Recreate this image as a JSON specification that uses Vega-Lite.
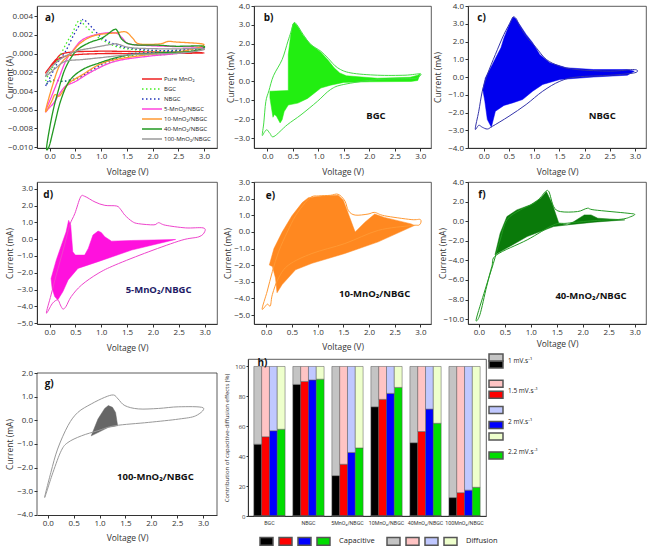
{
"$schema": "https://vega.github.io/schema/vega-lite/v6.json",
"padding": {"left": 4, "top": 1, "right": 0, "bottom": 0},
"background": "white",
"config": {
 "font": "Open Sans",
 "view": {"stroke": "#333", "strokeWidth": 0.8},
 "axis": {"grid": false, "domainColor": "#333", "tickColor": "#333", "labelColor": "#333", "titleColor": "#333", "labelFontSize": 8, "titleFontSize": 8.5, "titleFontWeight": "normal", "tickSize": 3, "labelPadding": 1.5, "labelFont": "Open Sans", "titleFont": "Open Sans", "labelOverlap": false},
 "legend": {"labelFont": "Open Sans", "titleFont": "Open Sans", "padding": 0}
},
"datasets": {
 "a": [
  {"s":"Pure MnO₂","i":1,"v":-0.08,"c":-0.00206},{"s":"Pure MnO₂","i":2,"v":0.05,"c":-0.00117},{"s":"Pure MnO₂","i":3,"v":0.31,"c":-0.00027},{"s":"Pure MnO₂","i":4,"v":0.96,"c":0.0},{"s":"Pure MnO₂","i":5,"v":1.93,"c":0.0},{"s":"Pure MnO₂","i":6,"v":3.0,"c":0.00008},{"s":"Pure MnO₂","i":7,"v":1.93,"c":0.00019},{"s":"Pure MnO₂","i":8,"v":0.96,"c":0.00026},{"s":"Pure MnO₂","i":9,"v":0.31,"c":0.00008},{"s":"Pure MnO₂","i":10,"v":0.12,"c":-0.00063},{"s":"Pure MnO₂","i":11,"v":-0.01,"c":-0.00153},
  {"s":"BGC","i":1,"v":-0.08,"c":-0.00295},{"s":"BGC","i":2,"v":0.05,"c":-0.00153},{"s":"BGC","i":3,"v":0.18,"c":-0.00045},{"s":"BGC","i":4,"v":0.31,"c":0.00097},{"s":"BGC","i":5,"v":0.44,"c":0.0022},{"s":"BGC","i":6,"v":0.57,"c":0.00355},{"s":"BGC","i":7,"v":0.7,"c":0.00292},{"s":"BGC","i":8,"v":0.96,"c":0.00168},{"s":"BGC","i":9,"v":1.28,"c":0.00079},{"s":"BGC","i":10,"v":1.61,"c":0.00044},{"s":"BGC","i":11,"v":2.25,"c":0.00026},{"s":"BGC","i":12,"v":3.0,"c":0.00044},{"s":"BGC","i":13,"v":2.25,"c":-0.0001},{"s":"BGC","i":14,"v":1.61,"c":-0.0002},{"s":"BGC","i":15,"v":1.15,"c":-0.001},{"s":"BGC","i":16,"v":0.83,"c":-0.00188},{"s":"BGC","i":17,"v":0.51,"c":-0.00277},{"s":"BGC","i":18,"v":0.25,"c":-0.00295},{"s":"BGC","i":19,"v":0.08,"c":-0.00277},{"s":"BGC","i":20,"v":-0.01,"c":-0.00313},
  {"s":"NBGC","i":1,"v":-0.08,"c":-0.00348},{"s":"NBGC","i":2,"v":0.02,"c":-0.00241},{"s":"NBGC","i":3,"v":0.15,"c":-0.001},{"s":"NBGC","i":4,"v":0.31,"c":0.00026},{"s":"NBGC","i":5,"v":0.47,"c":0.00204},{"s":"NBGC","i":6,"v":0.62,"c":0.0034},{"s":"NBGC","i":7,"v":0.67,"c":0.00364},{"s":"NBGC","i":8,"v":0.83,"c":0.00275},{"s":"NBGC","i":9,"v":1.02,"c":0.00168},{"s":"NBGC","i":10,"v":1.28,"c":0.00097},{"s":"NBGC","i":11,"v":1.61,"c":0.00054},{"s":"NBGC","i":12,"v":2.25,"c":0.00033},{"s":"NBGC","i":13,"v":3.0,"c":0.00061},{"s":"NBGC","i":14,"v":2.25,"c":0.00015},{"s":"NBGC","i":15,"v":1.61,"c":0.0},{"s":"NBGC","i":16,"v":1.15,"c":-0.00081},{"s":"NBGC","i":17,"v":0.83,"c":-0.0017},{"s":"NBGC","i":18,"v":0.57,"c":-0.00252},{"s":"NBGC","i":19,"v":0.28,"c":-0.00295},{"s":"NBGC","i":20,"v":0.12,"c":-0.00288},{"s":"NBGC","i":21,"v":-0.01,"c":-0.00295},
  {"s":"5-MnO₂/NBGC","i":1,"v":-0.08,"c":-0.00616},{"s":"5-MnO₂/NBGC","i":2,"v":0.05,"c":-0.00438},{"s":"5-MnO₂/NBGC","i":3,"v":0.18,"c":-0.0026},{"s":"5-MnO₂/NBGC","i":4,"v":0.31,"c":-0.00081},{"s":"5-MnO₂/NBGC","i":5,"v":0.44,"c":0.00026},{"s":"5-MnO₂/NBGC","i":6,"v":0.64,"c":0.0015},{"s":"5-MnO₂/NBGC","i":7,"v":0.96,"c":0.00211},{"s":"5-MnO₂/NBGC","i":8,"v":1.28,"c":0.00222},{"s":"5-MnO₂/NBGC","i":9,"v":1.41,"c":0.00168},{"s":"5-MnO₂/NBGC","i":10,"v":1.54,"c":0.00104},{"s":"5-MnO₂/NBGC","i":11,"v":1.93,"c":0.00086},{"s":"5-MnO₂/NBGC","i":12,"v":2.25,"c":0.00079},{"s":"5-MnO₂/NBGC","i":13,"v":3.0,"c":0.00061},{"s":"5-MnO₂/NBGC","i":14,"v":2.58,"c":0.00008},{"s":"5-MnO₂/NBGC","i":15,"v":1.93,"c":-0.00027},{"s":"5-MnO₂/NBGC","i":16,"v":1.28,"c":-0.00081},{"s":"5-MnO₂/NBGC","i":17,"v":0.83,"c":-0.00188},{"s":"5-MnO₂/NBGC","i":18,"v":0.51,"c":-0.00295},{"s":"5-MnO₂/NBGC","i":19,"v":0.31,"c":-0.00348},{"s":"5-MnO₂/NBGC","i":20,"v":0.18,"c":-0.00438},{"s":"5-MnO₂/NBGC","i":21,"v":0.08,"c":-0.00527},{"s":"5-MnO₂/NBGC","i":22,"v":-0.01,"c":-0.00581},
  {"s":"10-MnO₂/NBGC","i":1,"v":-0.08,"c":-0.00616},{"s":"10-MnO₂/NBGC","i":2,"v":0.05,"c":-0.0035},{"s":"10-MnO₂/NBGC","i":3,"v":0.2,"c":-0.0012},{"s":"10-MnO₂/NBGC","i":4,"v":0.41,"c":0.0},{"s":"10-MnO₂/NBGC","i":5,"v":0.57,"c":0.001},{"s":"10-MnO₂/NBGC","i":6,"v":0.76,"c":0.0017},{"s":"10-MnO₂/NBGC","i":7,"v":0.96,"c":0.00204},{"s":"10-MnO₂/NBGC","i":8,"v":1.28,"c":0.00222},{"s":"10-MnO₂/NBGC","i":9,"v":1.48,"c":0.00232},{"s":"10-MnO₂/NBGC","i":10,"v":1.61,"c":0.00168},{"s":"10-MnO₂/NBGC","i":11,"v":1.74,"c":0.00104},{"s":"10-MnO₂/NBGC","i":12,"v":2.13,"c":0.00104},{"s":"10-MnO₂/NBGC","i":13,"v":2.3,"c":0.0013},{"s":"10-MnO₂/NBGC","i":14,"v":2.45,"c":0.00125},{"s":"10-MnO₂/NBGC","i":15,"v":3.0,"c":0.00097},{"s":"10-MnO₂/NBGC","i":16,"v":2.58,"c":0.00026},{"s":"10-MnO₂/NBGC","i":17,"v":1.93,"c":-0.0001},{"s":"10-MnO₂/NBGC","i":18,"v":1.28,"c":-0.00063},{"s":"10-MnO₂/NBGC","i":19,"v":0.96,"c":-0.00117},{"s":"10-MnO₂/NBGC","i":20,"v":0.64,"c":-0.00224},{"s":"10-MnO₂/NBGC","i":21,"v":0.38,"c":-0.00313},{"s":"10-MnO₂/NBGC","i":22,"v":0.25,"c":-0.0041},{"s":"10-MnO₂/NBGC","i":23,"v":0.18,"c":-0.00456},{"s":"10-MnO₂/NBGC","i":24,"v":0.1,"c":-0.0044},{"s":"10-MnO₂/NBGC","i":25,"v":0.03,"c":-0.0052},
  {"s":"40-MnO₂/NBGC","i":1,"v":-0.06,"c":-0.01},{"s":"40-MnO₂/NBGC","i":2,"v":0.05,"c":-0.0065},{"s":"40-MnO₂/NBGC","i":3,"v":0.18,"c":-0.0037},{"s":"40-MnO₂/NBGC","i":4,"v":0.31,"c":-0.0015},{"s":"40-MnO₂/NBGC","i":5,"v":0.51,"c":0.00026},{"s":"40-MnO₂/NBGC","i":6,"v":0.76,"c":0.00115},{"s":"40-MnO₂/NBGC","i":7,"v":1.02,"c":0.00168},{"s":"40-MnO₂/NBGC","i":8,"v":1.25,"c":0.00257},{"s":"40-MnO₂/NBGC","i":9,"v":1.32,"c":0.0024},{"s":"40-MnO₂/NBGC","i":10,"v":1.41,"c":0.0015},{"s":"40-MnO₂/NBGC","i":11,"v":1.61,"c":0.00097},{"s":"40-MnO₂/NBGC","i":12,"v":2.13,"c":0.0009},{"s":"40-MnO₂/NBGC","i":13,"v":2.45,"c":0.00079},{"s":"40-MnO₂/NBGC","i":14,"v":3.0,"c":0.00079},{"s":"40-MnO₂/NBGC","i":15,"v":2.77,"c":0.00026},{"s":"40-MnO₂/NBGC","i":16,"v":2.13,"c":0.00008},{"s":"40-MnO₂/NBGC","i":17,"v":1.61,"c":-0.0001},{"s":"40-MnO₂/NBGC","i":18,"v":1.28,"c":-0.00045},{"s":"40-MnO₂/NBGC","i":19,"v":0.96,"c":-0.001},{"s":"40-MnO₂/NBGC","i":20,"v":0.64,"c":-0.0017},{"s":"40-MnO₂/NBGC","i":21,"v":0.38,"c":-0.00295},{"s":"40-MnO₂/NBGC","i":22,"v":0.21,"c":-0.0051},{"s":"40-MnO₂/NBGC","i":23,"v":0.08,"c":-0.00794},{"s":"40-MnO₂/NBGC","i":24,"v":-0.01,"c":-0.0099},
  {"s":"100-MnO₂/NBGC","i":1,"v":-0.08,"c":-0.00242},{"s":"100-MnO₂/NBGC","i":2,"v":0.05,"c":-0.00135},{"s":"100-MnO₂/NBGC","i":3,"v":0.25,"c":-0.00045},{"s":"100-MnO₂/NBGC","i":4,"v":0.51,"c":0.00026},{"s":"100-MnO₂/NBGC","i":5,"v":0.83,"c":0.00062},{"s":"100-MnO₂/NBGC","i":6,"v":1.25,"c":0.00104},{"s":"100-MnO₂/NBGC","i":7,"v":1.35,"c":0.00097},{"s":"100-MnO₂/NBGC","i":8,"v":1.61,"c":0.00062},{"s":"100-MnO₂/NBGC","i":9,"v":2.25,"c":0.00051},{"s":"100-MnO₂/NBGC","i":10,"v":3.0,"c":0.00051},{"s":"100-MnO₂/NBGC","i":11,"v":2.58,"c":0.00008},{"s":"100-MnO₂/NBGC","i":12,"v":1.61,"c":-0.0001},{"s":"100-MnO₂/NBGC","i":13,"v":0.96,"c":-0.00045},{"s":"100-MnO₂/NBGC","i":14,"v":0.64,"c":-0.00063},{"s":"100-MnO₂/NBGC","i":15,"v":0.31,"c":-0.00081},{"s":"100-MnO₂/NBGC","i":16,"v":0.12,"c":-0.00153}
 ],
 "b": [
  {"p":"l","i":1,"v":-0.10,"c":-2.85},{"p":"l","i":2,"v":-0.07,"c":-2.2},{"p":"l","i":3,"v":-0.03,"c":-1.07},{"p":"l","i":4,"v":0.03,"c":-0.5},{"p":"l","i":5,"v":0.12,"c":0.3},{"p":"l","i":6,"v":0.29,"c":1.16},{"p":"l","i":7,"v":0.40,"c":2.1},{"p":"l","i":8,"v":0.46,"c":2.6},{"p":"l","i":9,"v":0.52,"c":3.1},{"p":"l","i":10,"v":0.58,"c":3.0},{"p":"l","i":11,"v":0.70,"c":2.5},{"p":"l","i":12,"v":0.85,"c":1.96},{"p":"l","i":13,"v":1.05,"c":1.6},{"p":"l","i":14,"v":1.2,"c":1.2},{"p":"l","i":15,"v":1.38,"c":0.72},{"p":"l","i":16,"v":1.64,"c":0.45},{"p":"l","i":17,"v":2.16,"c":0.33},{"p":"l","i":18,"v":2.7,"c":0.33},{"p":"l","i":19,"v":3.0,"c":0.4},{"p":"l","i":20,"v":2.95,"c":0.2},{"p":"l","i":21,"v":2.82,"c":0.15},{"p":"l","i":22,"v":2.16,"c":0.1},{"p":"l","i":23,"v":1.5,"c":-0.16},{"p":"l","i":24,"v":1.24,"c":-0.43},{"p":"l","i":25,"v":0.98,"c":-1.06},{"p":"l","i":26,"v":0.66,"c":-1.77},{"p":"l","i":27,"v":0.39,"c":-2.3},{"p":"l","i":28,"v":0.13,"c":-2.92},{"p":"l","i":29,"v":0.05,"c":-2.75},{"p":"l","i":30,"v":-0.01,"c":-2.56},{"p":"l","i":31,"v":-0.06,"c":-2.7},
  {"p":"f","i":1,"v":0.05,"c":-0.52},{"p":"f","i":2,"v":0.41,"c":-0.48},{"p":"f","i":3,"v":0.41,"c":1.43},{"p":"f","i":4,"v":0.46,"c":2.5},{"p":"f","i":5,"v":0.50,"c":3.05},{"p":"f","i":6,"v":0.53,"c":3.12},{"p":"f","i":7,"v":0.6,"c":2.9},{"p":"f","i":8,"v":0.7,"c":2.45},{"p":"f","i":9,"v":0.85,"c":1.96},{"p":"f","i":10,"v":1.05,"c":1.55},{"p":"f","i":11,"v":1.2,"c":1.1},{"p":"f","i":12,"v":1.31,"c":0.72},{"p":"f","i":13,"v":1.42,"c":0.45},{"p":"f","i":14,"v":1.55,"c":0.3},{"p":"f","i":15,"v":2.16,"c":0.17},{"p":"f","i":16,"v":2.8,"c":0.22},{"p":"f","i":17,"v":2.95,"c":0.33},{"p":"f","i":18,"v":3.0,"c":0.42},{"p":"f","i":19,"v":2.95,"c":0.05},{"p":"f","i":20,"v":2.82,"c":0.0},{"p":"f","i":21,"v":2.0,"c":-0.02},{"p":"f","i":22,"v":1.5,"c":-0.05},{"p":"f","i":23,"v":1.24,"c":-0.2},{"p":"f","i":24,"v":1.05,"c":-0.35},{"p":"f","i":25,"v":0.79,"c":-0.9},{"p":"f","i":26,"v":0.6,"c":-1.15},{"p":"f","i":27,"v":0.41,"c":-1.25},{"p":"f","i":28,"v":0.33,"c":-1.6},{"p":"f","i":29,"v":0.29,"c":-2.03},{"p":"f","i":30,"v":0.25,"c":-2.2},{"p":"f","i":31,"v":0.21,"c":-2.0},{"p":"f","i":32,"v":0.18,"c":-1.85},{"p":"f","i":33,"v":0.14,"c":-1.75},{"p":"f","i":34,"v":0.11,"c":-1.9},{"p":"f","i":35,"v":0.08,"c":-1.4},{"p":"f","i":36,"v":0.05,"c":-0.87}
 ],
 "c": [
  {"p":"l","i":1,"v":-0.17,"c":-2.93},{"p":"l","i":2,"v":-0.1,"c":-1.93},{"p":"l","i":3,"v":-0.03,"c":-0.8},{"p":"l","i":4,"v":0.07,"c":0.14},{"p":"l","i":5,"v":0.23,"c":1.27},{"p":"l","i":6,"v":0.4,"c":2.4},{"p":"l","i":7,"v":0.54,"c":3.15},{"p":"l","i":8,"v":0.58,"c":3.38},{"p":"l","i":9,"v":0.64,"c":3.3},{"p":"l","i":10,"v":0.7,"c":2.96},{"p":"l","i":11,"v":0.84,"c":2.3},{"p":"l","i":12,"v":1.04,"c":1.65},{"p":"l","i":13,"v":1.24,"c":0.99},{"p":"l","i":14,"v":1.51,"c":0.61},{"p":"l","i":15,"v":1.85,"c":0.42},{"p":"l","i":16,"v":2.52,"c":0.33},{"p":"l","i":17,"v":2.99,"c":0.42},{"p":"l","i":18,"v":3.0,"c":0.24},{"p":"l","i":19,"v":2.52,"c":0.1},{"p":"l","i":20,"v":1.85,"c":0.0},{"p":"l","i":21,"v":1.51,"c":-0.24},{"p":"l","i":22,"v":1.17,"c":-0.8},{"p":"l","i":23,"v":0.84,"c":-1.55},{"p":"l","i":24,"v":0.5,"c":-2.21},{"p":"l","i":25,"v":0.17,"c":-2.78},{"p":"l","i":26,"v":0.07,"c":-2.93},{"p":"l","i":27,"v":-0.03,"c":-2.83},{"p":"l","i":28,"v":-0.1,"c":-2.72},
  {"p":"f","i":1,"v":-0.02,"c":-0.71},{"p":"f","i":2,"v":0.03,"c":-0.05},{"p":"f","i":3,"v":0.17,"c":0.7},{"p":"f","i":4,"v":0.27,"c":1.27},{"p":"f","i":5,"v":0.34,"c":1.65},{"p":"f","i":6,"v":0.4,"c":2.2},{"p":"f","i":7,"v":0.54,"c":3.19},{"p":"f","i":8,"v":0.58,"c":3.38},{"p":"f","i":9,"v":0.63,"c":3.3},{"p":"f","i":10,"v":0.7,"c":3.0},{"p":"f","i":11,"v":0.84,"c":2.4},{"p":"f","i":12,"v":0.97,"c":1.93},{"p":"f","i":13,"v":1.11,"c":1.27},{"p":"f","i":14,"v":1.31,"c":0.8},{"p":"f","i":15,"v":1.64,"c":0.52},{"p":"f","i":16,"v":2.18,"c":0.42},{"p":"f","i":17,"v":2.85,"c":0.42},{"p":"f","i":18,"v":2.99,"c":0.33},{"p":"f","i":19,"v":2.85,"c":0.1},{"p":"f","i":20,"v":2.18,"c":0.0},{"p":"f","i":21,"v":1.51,"c":-0.14},{"p":"f","i":22,"v":1.17,"c":-0.42},{"p":"f","i":23,"v":0.97,"c":-0.8},{"p":"f","i":24,"v":0.77,"c":-1.27},{"p":"f","i":25,"v":0.57,"c":-1.46},{"p":"f","i":26,"v":0.4,"c":-1.6},{"p":"f","i":27,"v":0.23,"c":-1.93},{"p":"f","i":28,"v":0.15,"c":-2.83},{"p":"f","i":29,"v":0.07,"c":-2.4},{"p":"f","i":30,"v":0.02,"c":-1.36}
 ],
 "d": [
  {"p":"l","i":1,"v":-0.06,"c":-4.4},{"p":"l","i":2,"v":0.03,"c":-3.32},{"p":"l","i":3,"v":0.13,"c":-2.14},{"p":"l","i":4,"v":0.29,"c":-0.36},{"p":"l","i":5,"v":0.39,"c":0.83},{"p":"l","i":6,"v":0.49,"c":1.52},{"p":"l","i":7,"v":0.6,"c":2.5},{"p":"l","i":8,"v":0.68,"c":2.55},{"p":"l","i":9,"v":0.88,"c":2.21},{"p":"l","i":10,"v":1.07,"c":2.01},{"p":"l","i":11,"v":1.3,"c":1.97},{"p":"l","i":12,"v":1.38,"c":1.75},{"p":"l","i":13,"v":1.46,"c":1.42},{"p":"l","i":14,"v":1.6,"c":1.05},{"p":"l","i":15,"v":1.72,"c":0.92},{"p":"l","i":16,"v":2.02,"c":0.85},{"p":"l","i":17,"v":2.11,"c":0.98},{"p":"l","i":18,"v":2.24,"c":0.83},{"p":"l","i":19,"v":2.63,"c":0.67},{"p":"l","i":20,"v":2.97,"c":0.67},{"p":"l","i":21,"v":3.0,"c":0.43},{"p":"l","i":22,"v":2.89,"c":0.14},{"p":"l","i":23,"v":2.56,"c":-0.06},{"p":"l","i":24,"v":1.92,"c":-0.75},{"p":"l","i":25,"v":1.27,"c":-1.54},{"p":"l","i":26,"v":0.94,"c":-2.04},{"p":"l","i":27,"v":0.62,"c":-2.73},{"p":"l","i":28,"v":0.42,"c":-3.42},{"p":"l","i":29,"v":0.32,"c":-4.0},{"p":"l","i":30,"v":0.26,"c":-4.16},{"p":"l","i":31,"v":0.21,"c":-3.92},{"p":"l","i":32,"v":0.16,"c":-3.62},{"p":"l","i":33,"v":0.06,"c":-3.81},
  {"p":"f","i":1,"v":0.03,"c":-2.34},{"p":"f","i":2,"v":0.13,"c":-1.25},{"p":"f","i":3,"v":0.23,"c":-0.36},{"p":"f","i":4,"v":0.32,"c":0.43},{"p":"f","i":5,"v":0.37,"c":1.12},{"p":"f","i":6,"v":0.41,"c":0.83},{"p":"f","i":7,"v":0.45,"c":-0.75},{"p":"f","i":8,"v":0.5,"c":-0.95},{"p":"f","i":9,"v":0.68,"c":-0.95},{"p":"f","i":10,"v":0.75,"c":-0.55},{"p":"f","i":11,"v":0.84,"c":0.24},{"p":"f","i":12,"v":0.94,"c":0.48},{"p":"f","i":13,"v":1.0,"c":0.4},{"p":"f","i":14,"v":1.07,"c":0.14},{"p":"f","i":15,"v":1.2,"c":-0.12},{"p":"f","i":16,"v":1.59,"c":-0.08},{"p":"f","i":17,"v":2.44,"c":-0.02},{"p":"f","i":18,"v":1.59,"c":-0.65},{"p":"f","i":19,"v":0.94,"c":-1.34},{"p":"f","i":20,"v":0.55,"c":-1.74},{"p":"f","i":21,"v":0.36,"c":-2.43},{"p":"f","i":22,"v":0.26,"c":-3.12},{"p":"f","i":23,"v":0.16,"c":-3.62},{"p":"f","i":24,"v":0.1,"c":-3.42},{"p":"f","i":25,"v":0.05,"c":-2.93}
 ],
 "e": [
  {"p":"l","i":1,"v":-0.08,"c":-4.64},{"p":"l","i":2,"v":0.02,"c":-3.56},{"p":"l","i":3,"v":0.12,"c":-2.38},{"p":"l","i":4,"v":0.24,"c":-1.2},{"p":"l","i":5,"v":0.41,"c":-0.01},{"p":"l","i":6,"v":0.57,"c":0.97},{"p":"l","i":7,"v":0.76,"c":1.76},{"p":"l","i":8,"v":0.89,"c":2.12},{"p":"l","i":9,"v":1.02,"c":2.16},{"p":"l","i":10,"v":1.25,"c":2.2},{"p":"l","i":11,"v":1.4,"c":2.26},{"p":"l","i":12,"v":1.53,"c":1.86},{"p":"l","i":13,"v":1.6,"c":1.27},{"p":"l","i":14,"v":1.73,"c":1.01},{"p":"l","i":15,"v":1.98,"c":1.07},{"p":"l","i":16,"v":2.11,"c":1.17},{"p":"l","i":17,"v":2.3,"c":0.97},{"p":"l","i":18,"v":2.82,"c":0.74},{"p":"l","i":19,"v":3.0,"c":0.74},{"p":"l","i":20,"v":2.98,"c":0.42},{"p":"l","i":21,"v":2.82,"c":0.38},{"p":"l","i":22,"v":2.18,"c":0.09},{"p":"l","i":23,"v":1.53,"c":-0.7},{"p":"l","i":24,"v":0.89,"c":-1.3},{"p":"l","i":25,"v":0.44,"c":-1.98},{"p":"l","i":26,"v":0.24,"c":-2.77},{"p":"l","i":27,"v":0.12,"c":-3.76},{"p":"l","i":28,"v":0.08,"c":-4.45},{"p":"l","i":29,"v":0.02,"c":-4.35},
  {"p":"f","i":1,"v":0.06,"c":-1.99},{"p":"f","i":2,"v":0.15,"c":-1.0},{"p":"f","i":3,"v":0.31,"c":-0.01},{"p":"f","i":4,"v":0.5,"c":0.97},{"p":"f","i":5,"v":0.7,"c":1.76},{"p":"f","i":6,"v":0.82,"c":2.06},{"p":"f","i":7,"v":1.08,"c":2.16},{"p":"f","i":8,"v":1.4,"c":2.2},{"p":"f","i":9,"v":1.5,"c":1.9},{"p":"f","i":10,"v":1.73,"c":-0.01},{"p":"f","i":11,"v":1.92,"c":0.58},{"p":"f","i":12,"v":2.11,"c":1.07},{"p":"f","i":13,"v":2.3,"c":0.87},{"p":"f","i":14,"v":2.82,"c":0.48},{"p":"f","i":15,"v":2.88,"c":0.38},{"p":"f","i":16,"v":2.18,"c":-0.6},{"p":"f","i":17,"v":1.53,"c":-1.3},{"p":"f","i":18,"v":0.89,"c":-1.89},{"p":"f","i":19,"v":0.57,"c":-2.28},{"p":"f","i":20,"v":0.31,"c":-3.17},{"p":"f","i":21,"v":0.21,"c":-3.66},{"p":"f","i":22,"v":0.18,"c":-2.77},{"p":"f","i":23,"v":0.12,"c":-2.08}
 ],
 "f": [
  {"p":"l","i":1,"v":-0.05,"c":-10.0},{"p":"l","i":2,"v":0.12,"c":-7.0},{"p":"l","i":3,"v":0.28,"c":-4.3},{"p":"l","i":4,"v":0.41,"c":-1.92},{"p":"l","i":5,"v":0.54,"c":0.13},{"p":"l","i":6,"v":0.8,"c":1.15},{"p":"l","i":7,"v":1.06,"c":1.83},{"p":"l","i":8,"v":1.2,"c":2.5},{"p":"l","i":9,"v":1.28,"c":3.02},{"p":"l","i":10,"v":1.35,"c":3.0},{"p":"l","i":11,"v":1.44,"c":1.49},{"p":"l","i":12,"v":1.57,"c":0.98},{"p":"l","i":13,"v":1.9,"c":0.98},{"p":"l","i":14,"v":2.09,"c":1.32},{"p":"l","i":15,"v":2.22,"c":1.15},{"p":"l","i":16,"v":2.87,"c":0.81},{"p":"l","i":17,"v":3.0,"c":0.7},{"p":"l","i":18,"v":2.93,"c":0.47},{"p":"l","i":19,"v":2.74,"c":0.2},{"p":"l","i":20,"v":2.22,"c":0.06},{"p":"l","i":21,"v":1.7,"c":-0.21},{"p":"l","i":22,"v":1.44,"c":-0.38},{"p":"l","i":23,"v":0.93,"c":-1.91},{"p":"l","i":24,"v":0.34,"c":-3.45},{"p":"l","i":25,"v":0.25,"c":-4.64},{"p":"l","i":26,"v":0.15,"c":-6.67},{"p":"l","i":27,"v":0.02,"c":-9.56},
  {"p":"f","i":1,"v":0.31,"c":-3.44},{"p":"f","i":2,"v":0.41,"c":-1.23},{"p":"f","i":3,"v":0.54,"c":0.47},{"p":"f","i":4,"v":0.73,"c":1.15},{"p":"f","i":5,"v":0.99,"c":1.66},{"p":"f","i":6,"v":1.19,"c":2.34},{"p":"f","i":7,"v":1.3,"c":3.02},{"p":"f","i":8,"v":1.41,"c":1.83},{"p":"f","i":9,"v":1.54,"c":-0.21},{"p":"f","i":10,"v":1.7,"c":-0.38},{"p":"f","i":11,"v":1.83,"c":-0.04},{"p":"f","i":12,"v":2.03,"c":0.64},{"p":"f","i":13,"v":2.16,"c":0.64},{"p":"f","i":14,"v":2.29,"c":0.3},{"p":"f","i":15,"v":2.81,"c":0.13},{"p":"f","i":16,"v":2.22,"c":-0.1},{"p":"f","i":17,"v":1.7,"c":-0.38},{"p":"f","i":18,"v":1.44,"c":-0.55},{"p":"f","i":19,"v":0.93,"c":-1.57}
 ],
 "g": [
  {"p":"l","i":1,"v":-0.06,"c":-3.27},{"p":"l","i":2,"v":0.06,"c":-2.21},{"p":"l","i":3,"v":0.19,"c":-1.22},{"p":"l","i":4,"v":0.39,"c":-0.23},{"p":"l","i":5,"v":0.58,"c":0.33},{"p":"l","i":6,"v":0.84,"c":0.69},{"p":"l","i":7,"v":1.1,"c":0.97},{"p":"l","i":8,"v":1.27,"c":1.07},{"p":"l","i":9,"v":1.36,"c":0.9},{"p":"l","i":10,"v":1.49,"c":0.62},{"p":"l","i":11,"v":1.75,"c":0.48},{"p":"l","i":12,"v":2.14,"c":0.5},{"p":"l","i":13,"v":2.53,"c":0.57},{"p":"l","i":14,"v":3.0,"c":0.53},{"p":"l","i":15,"v":2.86,"c":0.19},{"p":"l","i":16,"v":2.53,"c":0.05},{"p":"l","i":17,"v":1.95,"c":-0.09},{"p":"l","i":18,"v":1.3,"c":-0.23},{"p":"l","i":19,"v":0.97,"c":-0.44},{"p":"l","i":20,"v":0.65,"c":-0.66},{"p":"l","i":21,"v":0.39,"c":-0.94},{"p":"l","i":22,"v":0.26,"c":-1.29},{"p":"l","i":23,"v":0.1,"c":-2.21},
  {"p":"f","i":1,"v":0.84,"c":-0.66},{"p":"f","i":2,"v":0.97,"c":0.05},{"p":"f","i":3,"v":1.1,"c":0.5},{"p":"f","i":4,"v":1.17,"c":0.62},{"p":"f","i":5,"v":1.25,"c":0.55},{"p":"f","i":6,"v":1.31,"c":0.33},{"p":"f","i":7,"v":1.35,"c":-0.23},{"p":"f","i":8,"v":1.17,"c":-0.3},{"p":"f","i":9,"v":0.97,"c":-0.52}
 ],
 "h": [
  {"cat":"BGC","r":"1 mV.s⁻¹","cap":48},{"cat":"BGC","r":"1.5 mV.s⁻¹","cap":53},{"cat":"BGC","r":"2 mV.s⁻¹","cap":57},{"cat":"BGC","r":"2.2 mV.s⁻¹","cap":58},
  {"cat":"NBGC","r":"1 mV.s⁻¹","cap":88},{"cat":"NBGC","r":"1.5 mV.s⁻¹","cap":90},{"cat":"NBGC","r":"2 mV.s⁻¹","cap":91},{"cat":"NBGC","r":"2.2 mV.s⁻¹","cap":91.5},
  {"cat":"5MnO₂/NBGC","r":"1 mV.s⁻¹","cap":27},{"cat":"5MnO₂/NBGC","r":"1.5 mV.s⁻¹","cap":34.6},{"cat":"5MnO₂/NBGC","r":"2 mV.s⁻¹","cap":42.5},{"cat":"5MnO₂/NBGC","r":"2.2 mV.s⁻¹","cap":45.5},
  {"cat":"10MnO₂/NBGC","r":"1 mV.s⁻¹","cap":73},{"cat":"10MnO₂/NBGC","r":"1.5 mV.s⁻¹","cap":78},{"cat":"10MnO₂/NBGC","r":"2 mV.s⁻¹","cap":82},{"cat":"10MnO₂/NBGC","r":"2.2 mV.s⁻¹","cap":86},
  {"cat":"40MnO₂/NBGC","r":"1 mV.s⁻¹","cap":49},{"cat":"40MnO₂/NBGC","r":"1.5 mV.s⁻¹","cap":56.5},{"cat":"40MnO₂/NBGC","r":"2 mV.s⁻¹","cap":71.5},{"cat":"40MnO₂/NBGC","r":"2.2 mV.s⁻¹","cap":62},
  {"cat":"100MnO₂/NBGC","r":"1 mV.s⁻¹","cap":12.3},{"cat":"100MnO₂/NBGC","r":"1.5 mV.s⁻¹","cap":15.6},{"cat":"100MnO₂/NBGC","r":"2 mV.s⁻¹","cap":17.3},{"cat":"100MnO₂/NBGC","r":"2.2 mV.s⁻¹","cap":19.2}
 ]
},
"spacing": 0,
"vconcat": [
 {"hconcat": [
  {"width": 180, "height": 142, "data": {"name": "a"},
   "layer": [
    {"mark": {"type": "line", "interpolate": "cardinal-closed", "strokeWidth": 1.3},
     "encoding": {
      "x": {"field": "v", "type": "quantitative", "scale": {"domain": [-0.247, 3.253], "nice": false, "zero": false}, "axis": {"values": [0,0.5,1,1.5,2,2.5,3], "tickCount": 40, "format": ".1f", "title": "Voltage (V)", "titleY": 23, "titleBaseline": "middle"}},
      "y": {"field": "c", "type": "quantitative", "scale": {"domain": [-0.0101, 0.0051], "nice": false, "zero": false}, "axis": {"values": [-0.01,-0.008,-0.006,-0.004,-0.002,0,0.002,0.004], "tickCount": 40, "format": ".3f", "title": "Current (A)", "titleX": -28, "titleBaseline": "middle"}},
      "color": {"field": "s", "type": "nominal", "scale": {"domain": ["Pure MnO₂","BGC","NBGC","5-MnO₂/NBGC","10-MnO₂/NBGC","40-MnO₂/NBGC","100-MnO₂/NBGC"], "range": ["#ee2222","#44ee22","#2233bb","#ff44dd","#ff9933","#229922","#9a9a9a"]},
        "legend": {"title": null, "orient": "none", "legendX": 110, "legendY": 68, "symbolType": "M-2.5,0H2.5", "symbolSize": 64, "symbolStrokeWidth": 1.6, "labelFontSize": 6, "labelOffset": 7, "rowPadding": 1, "labelColor": "#222"}},
      "strokeDash": {"field": "s", "type": "nominal", "scale": {"domain": ["Pure MnO₂","BGC","NBGC","5-MnO₂/NBGC","10-MnO₂/NBGC","40-MnO₂/NBGC","100-MnO₂/NBGC"], "range": [[1,0],[1.5,2.5],[1.5,2.5],[1,0],[1,0],[1,0],[1,0]]},
        "legend": {"title": null, "orient": "none", "legendX": 110, "legendY": 68, "symbolType": "M-2.5,0H2.5", "symbolSize": 64, "symbolStrokeWidth": 1.6, "labelFontSize": 6, "labelOffset": 7, "rowPadding": 1, "labelColor": "#222"}},
      "order": {"field": "i", "type": "quantitative"}
     }},
    {"data": {"values": [{}]}, "mark": {"type": "text", "align": "left", "fontWeight": "bold", "fontSize": 10, "color": "#111"}, "encoding": {"x": {"datum": -0.09}, "y": {"datum": 0.0038}, "text": {"value": "a)"}}}
   ]},
  {"width": 177, "height": 142, "data": {"name": "b"},
   "layer": [
    {"transform": [{"filter": "datum.p == 'f'"}], "mark": {"type": "line", "interpolate": "linear-closed", "fill": "#22ee11", "stroke": "#22ee11", "strokeWidth": 0.5},
     "encoding": {
      "x": {"field": "v", "type": "quantitative", "scale": {"domain": [-0.262, 3.21], "nice": false, "zero": false}, "axis": {"values": [0,0.5,1,1.5,2,2.5,3], "tickCount": 40, "format": ".1f", "title": "Voltage (V)", "titleY": 23, "titleBaseline": "middle"}},
      "y": {"field": "c", "type": "quantitative", "scale": {"domain": [-3.53, 4.0], "nice": false, "zero": false}, "axis": {"values": [-3,-2,-1,0,1,2,3,4], "tickCount": 40, "format": ".1f", "title": "Current (mA)", "titleX": -24, "titleBaseline": "middle"}},
      "order": {"field": "i", "type": "quantitative"}}},
    {"transform": [{"filter": "datum.p == 'l'"}], "mark": {"type": "line", "interpolate": "cardinal-closed", "stroke": "#44dd44", "strokeWidth": 1},
     "encoding": {"x": {"field": "v", "type": "quantitative"}, "y": {"field": "c", "type": "quantitative"}, "order": {"field": "i", "type": "quantitative"}}},
    {"data": {"values": [{}]}, "mark": {"type": "text", "align": "left", "fontWeight": "bold", "fontSize": 10, "color": "#111"}, "encoding": {"x": {"datum": -0.07}, "y": {"datum": 3.38}, "text": {"value": "b)"}}},
    {"data": {"values": [{}]}, "mark": {"type": "text", "fontWeight": "bold", "fontSize": 9.5, "color": "#111"}, "encoding": {"x": {"datum": 2.13}, "y": {"datum": -1.85}, "text": {"value": "BGC"}}}
   ]},
  {"width": 178, "height": 142, "data": {"name": "c"},
   "layer": [
    {"transform": [{"filter": "datum.p == 'f'"}], "mark": {"type": "line", "interpolate": "linear-closed", "fill": "#0000ee", "stroke": "#0000ee", "strokeWidth": 0.5},
     "encoding": {
      "x": {"field": "v", "type": "quantitative", "scale": {"domain": [-0.314, 3.22], "nice": false, "zero": false}, "axis": {"values": [0,0.5,1,1.5,2,2.5,3], "tickCount": 40, "format": ".1f", "title": "Voltage (V)", "titleY": 23.5, "titleBaseline": "middle"}},
      "y": {"field": "c", "type": "quantitative", "scale": {"domain": [-4.0, 4.0], "nice": false, "zero": false}, "axis": {"values": [-4,-3,-2,-1,0,1,2,3,4], "tickCount": 40, "format": ".1f", "title": "Current (mA)", "titleX": -31, "titleBaseline": "middle"}},
      "order": {"field": "i", "type": "quantitative"}}},
    {"transform": [{"filter": "datum.p == 'l'"}], "mark": {"type": "line", "interpolate": "cardinal-closed", "stroke": "#3333aa", "strokeWidth": 1},
     "encoding": {"x": {"field": "v", "type": "quantitative"}, "y": {"field": "c", "type": "quantitative"}, "order": {"field": "i", "type": "quantitative"}}},
    {"data": {"values": [{}]}, "mark": {"type": "text", "align": "left", "fontWeight": "bold", "fontSize": 10, "color": "#111"}, "encoding": {"x": {"datum": -0.13}, "y": {"datum": 3.34}, "text": {"value": "c)"}}},
    {"data": {"values": [{}]}, "mark": {"type": "text", "fontWeight": "bold", "fontSize": 9.5, "color": "#111"}, "encoding": {"x": {"datum": 2.35}, "y": {"datum": -2.21}, "text": {"value": "NBGC"}}}
   ]}
 ], "spacing": 37, "bounds": "flush"},
 {"hconcat": [
  {"width": 180, "height": 142, "data": {"name": "d"},
   "layer": [
    {"transform": [{"filter": "datum.p == 'f'"}], "mark": {"type": "line", "interpolate": "linear-closed", "fill": "#ff11dd", "stroke": "#ff11dd", "strokeWidth": 0.5},
     "encoding": {
      "x": {"field": "v", "type": "quantitative", "scale": {"domain": [-0.242, 3.24], "nice": false, "zero": false}, "axis": {"values": [0,0.5,1,1.5,2,2.5,3], "tickCount": 40, "format": ".1f", "title": "Voltage (V)", "titleY": 23, "titleBaseline": "middle"}},
      "y": {"field": "c", "type": "quantitative", "scale": {"domain": [-5.05, 3.4], "nice": false, "zero": false}, "axis": {"values": [-5,-4,-3,-2,-1,0,1,2,3], "tickCount": 40, "format": ".1f", "title": "Current (mA)", "titleX": -28, "titleBaseline": "middle"}},
      "order": {"field": "i", "type": "quantitative"}}},
    {"transform": [{"filter": "datum.p == 'l'"}], "mark": {"type": "line", "interpolate": "cardinal-closed", "stroke": "#ee44cc", "strokeWidth": 1},
     "encoding": {"x": {"field": "v", "type": "quantitative"}, "y": {"field": "c", "type": "quantitative"}, "order": {"field": "i", "type": "quantitative"}}},
    {"data": {"values": [{}]}, "mark": {"type": "text", "align": "left", "fontWeight": "bold", "fontSize": 10, "color": "#111"}, "encoding": {"x": {"datum": -0.12}, "y": {"datum": 2.6}, "text": {"value": "d)"}}},
    {"data": {"values": [{}]}, "mark": {"type": "text", "fontWeight": "bold", "fontSize": 9.5, "color": "#221a66"}, "encoding": {"x": {"datum": 2.11}, "y": {"datum": -3.02}, "text": {"value": "5-MnO₂/NBGC"}}}
   ]},
  {"width": 177, "height": 142, "data": {"name": "e"},
   "layer": [
    {"transform": [{"filter": "datum.p == 'f'"}], "mark": {"type": "line", "interpolate": "linear-closed", "fill": "#ff8820", "stroke": "#ff8820", "strokeWidth": 0.5},
     "encoding": {
      "x": {"field": "v", "type": "quantitative", "scale": {"domain": [-0.238, 3.206], "nice": false, "zero": false}, "axis": {"values": [0,0.5,1,1.5,2,2.5,3], "tickCount": 40, "format": ".1f", "title": "Voltage (V)", "titleY": 22, "titleBaseline": "middle"}},
      "y": {"field": "c", "type": "quantitative", "scale": {"domain": [-5.54, 3.0], "nice": false, "zero": false}, "axis": {"values": [-5,-4,-3,-2,-1,0,1,2,3], "tickCount": 40, "format": ".1f", "title": "Current (mA)", "titleX": -27, "titleBaseline": "middle"}},
      "order": {"field": "i", "type": "quantitative"}}},
    {"transform": [{"filter": "datum.p == 'l'"}], "mark": {"type": "line", "interpolate": "cardinal-closed", "stroke": "#ff9933", "strokeWidth": 1},
     "encoding": {"x": {"field": "v", "type": "quantitative"}, "y": {"field": "c", "type": "quantitative"}, "order": {"field": "i", "type": "quantitative"}}},
    {"data": {"values": [{}]}, "mark": {"type": "text", "align": "left", "fontWeight": "bold", "fontSize": 10, "color": "#111"}, "encoding": {"x": {"datum": -0.01}, "y": {"datum": 2.16}, "text": {"value": "e)"}}},
    {"data": {"values": [{}]}, "mark": {"type": "text", "fontWeight": "bold", "fontSize": 9.5, "color": "#111"}, "encoding": {"x": {"datum": 2.11}, "y": {"datum": -3.76}, "text": {"value": "10-MnO₂/NBGC"}}}
   ]},
  {"width": 178, "height": 142, "data": {"name": "f"},
   "layer": [
    {"transform": [{"filter": "datum.p == 'f'"}], "mark": {"type": "line", "interpolate": "linear-closed", "fill": "#0a7a0a", "stroke": "#0a7a0a", "strokeWidth": 0.5},
     "encoding": {
      "x": {"field": "v", "type": "quantitative", "scale": {"domain": [-0.209, 3.218], "nice": false, "zero": false}, "axis": {"values": [0,0.5,1,1.5,2,2.5,3], "tickCount": 40, "format": ".1f", "title": "Voltage (V)", "titleY": 19.5, "titleBaseline": "middle"}},
      "y": {"field": "c", "type": "quantitative", "scale": {"domain": [-10.5, 4.0], "nice": false, "zero": false}, "axis": {"values": [-10,-8,-6,-4,-2,0,2,4], "tickCount": 40, "format": ".1f", "title": "Current (mA)", "titleX": -26, "titleBaseline": "middle"}},
      "order": {"field": "i", "type": "quantitative"}}},
    {"transform": [{"filter": "datum.p == 'l'"}], "mark": {"type": "line", "interpolate": "cardinal-closed", "stroke": "#229922", "strokeWidth": 1},
     "encoding": {"x": {"field": "v", "type": "quantitative"}, "y": {"field": "c", "type": "quantitative"}, "order": {"field": "i", "type": "quantitative"}}},
    {"data": {"values": [{}]}, "mark": {"type": "text", "align": "left", "fontWeight": "bold", "fontSize": 10, "color": "#111"}, "encoding": {"x": {"datum": -0.01}, "y": {"datum": 2.68}, "text": {"value": "f)"}}},
    {"data": {"values": [{}]}, "mark": {"type": "text", "fontWeight": "bold", "fontSize": 9.5, "color": "#111"}, "encoding": {"x": {"datum": 2.16}, "y": {"datum": -7.62}, "text": {"value": "40-MnO₂/NBGC"}}}
   ]}
 ], "spacing": 37, "bounds": "flush"},
 {"hconcat": [
  {"width": 180, "height": 156, "data": {"name": "g"}, "view": {"stroke": null},
   "layer": [
    {"transform": [{"filter": "datum.p == 'f'"}], "mark": {"type": "line", "interpolate": "linear-closed", "fill": "#666666", "stroke": "#666666", "strokeWidth": 0.5},
     "encoding": {
      "x": {"field": "v", "type": "quantitative", "scale": {"domain": [-0.208, 3.27], "nice": false, "zero": false}, "axis": {"values": [0,0.5,1,1.5,2,2.5,3], "tickCount": 40, "format": ".1f", "title": "Voltage (V)", "titleY": 22.5, "titleBaseline": "middle"}},
      "y": {"field": "c", "type": "quantitative", "scale": {"domain": [-4.01, 2.593], "nice": false, "zero": false}, "axis": {"values": [-4,-3,-2,-1,0,1,2], "tickCount": 40, "format": ".1f", "title": "Current (mA)", "titleX": -28, "titleY": 85, "titleBaseline": "middle", "domain": false}},
      "order": {"field": "i", "type": "quantitative"}}},
    {"transform": [{"filter": "datum.p == 'l'"}], "mark": {"type": "line", "interpolate": "cardinal-closed", "stroke": "#999999", "strokeWidth": 1},
     "encoding": {"x": {"field": "v", "type": "quantitative"}, "y": {"field": "c", "type": "quantitative"}, "order": {"field": "i", "type": "quantitative"}}},
    {"data": {"values": [{}]}, "mark": {"type": "rule", "stroke": "#333", "strokeWidth": 0.8}, "encoding": {"x": {"datum": -0.208}, "x2": {"datum": 3.27}, "y": {"datum": 2.0}}},
    {"data": {"values": [{}]}, "mark": {"type": "rule", "stroke": "#333", "strokeWidth": 0.8}, "encoding": {"x": {"datum": -0.208}, "y": {"datum": -4.01}, "y2": {"datum": 2.0}}},
    {"data": {"values": [{}]}, "mark": {"type": "rule", "stroke": "#333", "strokeWidth": 0.8}, "encoding": {"x": {"datum": 3.27}, "y": {"datum": -4.01}, "y2": {"datum": 2.0}}},
    {"data": {"values": [{}]}, "mark": {"type": "text", "align": "left", "fontWeight": "bold", "fontSize": 10, "color": "#111"}, "encoding": {"x": {"datum": -0.06}, "y": {"datum": 1.53}, "text": {"value": "g)"}}},
    {"data": {"values": [{}]}, "mark": {"type": "text", "fontWeight": "bold", "fontSize": 9.5, "color": "#111"}, "encoding": {"x": {"datum": 2.08}, "y": {"datum": -2.42}, "text": {"value": "100-MnO₂/NBGC"}}}
   ]},
  {"width": 238, "height": 157, "data": {"name": "h"},
   "layer": [
    {"mark": {"type": "bar", "stroke": "#555", "strokeWidth": 0.5},
     "encoding": {
      "x": {"field": "cat", "type": "nominal", "sort": null, "scale": {"paddingInner": 0.2, "paddingOuter": 0.15}, "axis": {"title": null, "labelAngle": 0, "labelFont": "Roboto", "labelFontSize": 5.3, "ticks": false, "labelPadding": 4, "labelLimit": 60}},
      "xOffset": {"field": "r", "type": "nominal", "sort": null, "scale": {"paddingInner": 0, "paddingOuter": 0}},
      "y": {"field": "cap", "type": "quantitative", "scale": {"domain": [0, 105], "nice": false}, "axis": {"values": [0,20,40,60,80,100], "tickCount": 40, "labelFontSize": 6, "tickSize": 2, "labelPadding": 1, "title": "Contribution of capacitive-diffusion effects (%)", "titleFontSize": 6, "titleX": -21.5, "titleBaseline": "middle"}},
      "y2": {"datum": 0},
      "fill": {"field": "r", "type": "nominal", "scale": {"domain": ["1 mV.s⁻¹","1.5 mV.s⁻¹","2 mV.s⁻¹","2.2 mV.s⁻¹"], "range": ["#000000","#ff0000","#0000ff","#00dd00"]},
        "legend": {"title": null, "orient": "none", "legendX": 240, "legendY": -6, "symbolType": "M-1,0H1V1H-1Z", "symbolSize": 196, "rowPadding": 12.3, "labelOffset": 4, "labelFontSize": 6.5, "labelColor": "#222"}}
     }},
    {"mark": {"type": "bar", "stroke": "#555", "strokeWidth": 0.5},
     "encoding": {
      "x": {"field": "cat", "type": "nominal", "sort": null},
      "xOffset": {"field": "r", "type": "nominal", "sort": null},
      "y": {"field": "cap", "type": "quantitative"},
      "y2": {"datum": 100},
      "fill": {"field": "r", "type": "nominal", "scale": {"domain": ["1 mV.s⁻¹","1.5 mV.s⁻¹","2 mV.s⁻¹","2.2 mV.s⁻¹"], "range": ["#c4c4c4","#ffc4c4","#c0c8ff","#eeffcc"]},
        "legend": {"title": null, "orient": "none", "legendX": 240, "legendY": -6, "symbolType": "M-1,-1H1V0H-1Z", "symbolSize": 196, "rowPadding": 12.3, "labelOffset": 4, "labelFontSize": 6.5, "labelExpr": "''"}}
     }},
    {"mark": {"type": "bar", "stroke": "#555", "strokeWidth": 0.5},
     "encoding": {
      "x": {"field": "cat", "type": "nominal", "sort": null},
      "xOffset": {"field": "r", "type": "nominal", "sort": null},
      "y": {"datum": 0}, "y2": {"datum": 0},
      "fill": {"field": "r", "type": "nominal", "scale": {"domain": ["1 mV.s⁻¹","1.5 mV.s⁻¹","2 mV.s⁻¹","2.2 mV.s⁻¹"], "range": ["#000000","#ff0000","#0000ff","#00dd00"]},
        "legend": {"title": "Capacitive", "titleOrient": "right", "titleFontSize": 7.5, "titleFontWeight": "normal", "titlePadding": 6, "titleColor": "#222", "orient": "none", "direction": "horizontal", "columns": 4, "legendX": 11, "legendY": 174.5, "symbolType": "M-1,-0.6H1V0.6H-1Z", "symbolSize": 169, "labelExpr": "''", "labelOffset": 0, "columnPadding": 0}}
     }},
    {"mark": {"type": "bar", "stroke": "#555", "strokeWidth": 0.5},
     "encoding": {
      "x": {"field": "cat", "type": "nominal", "sort": null},
      "xOffset": {"field": "r", "type": "nominal", "sort": null},
      "y": {"datum": 0}, "y2": {"datum": 0},
      "fill": {"field": "r", "type": "nominal", "scale": {"domain": ["1 mV.s⁻¹","1.5 mV.s⁻¹","2 mV.s⁻¹","2.2 mV.s⁻¹"], "range": ["#c4c4c4","#ffc4c4","#c0c8ff","#eeffcc"]},
        "legend": {"title": "Diffusion", "titleOrient": "right", "titleFontSize": 7.5, "titleFontWeight": "normal", "titlePadding": 6, "titleColor": "#222", "orient": "none", "direction": "horizontal", "columns": 4, "legendX": 138, "legendY": 174.5, "symbolType": "M-1,-0.6H1V0.6H-1Z", "symbolSize": 169, "labelExpr": "''", "labelOffset": 0, "columnPadding": 0}}
     }},
    {"data": {"values": [{}]}, "mark": {"type": "text", "align": "left", "fontWeight": "bold", "fontSize": 10, "color": "#111", "dx": -12}, "encoding": {"x": {"datum": "BGC"}, "y": {"datum": 102}, "text": {"value": "h)"}}}
   ],
   "resolve": {"scale": {"fill": "independent"}}}
 ], "spacing": 31, "bounds": "flush"}
]
}
